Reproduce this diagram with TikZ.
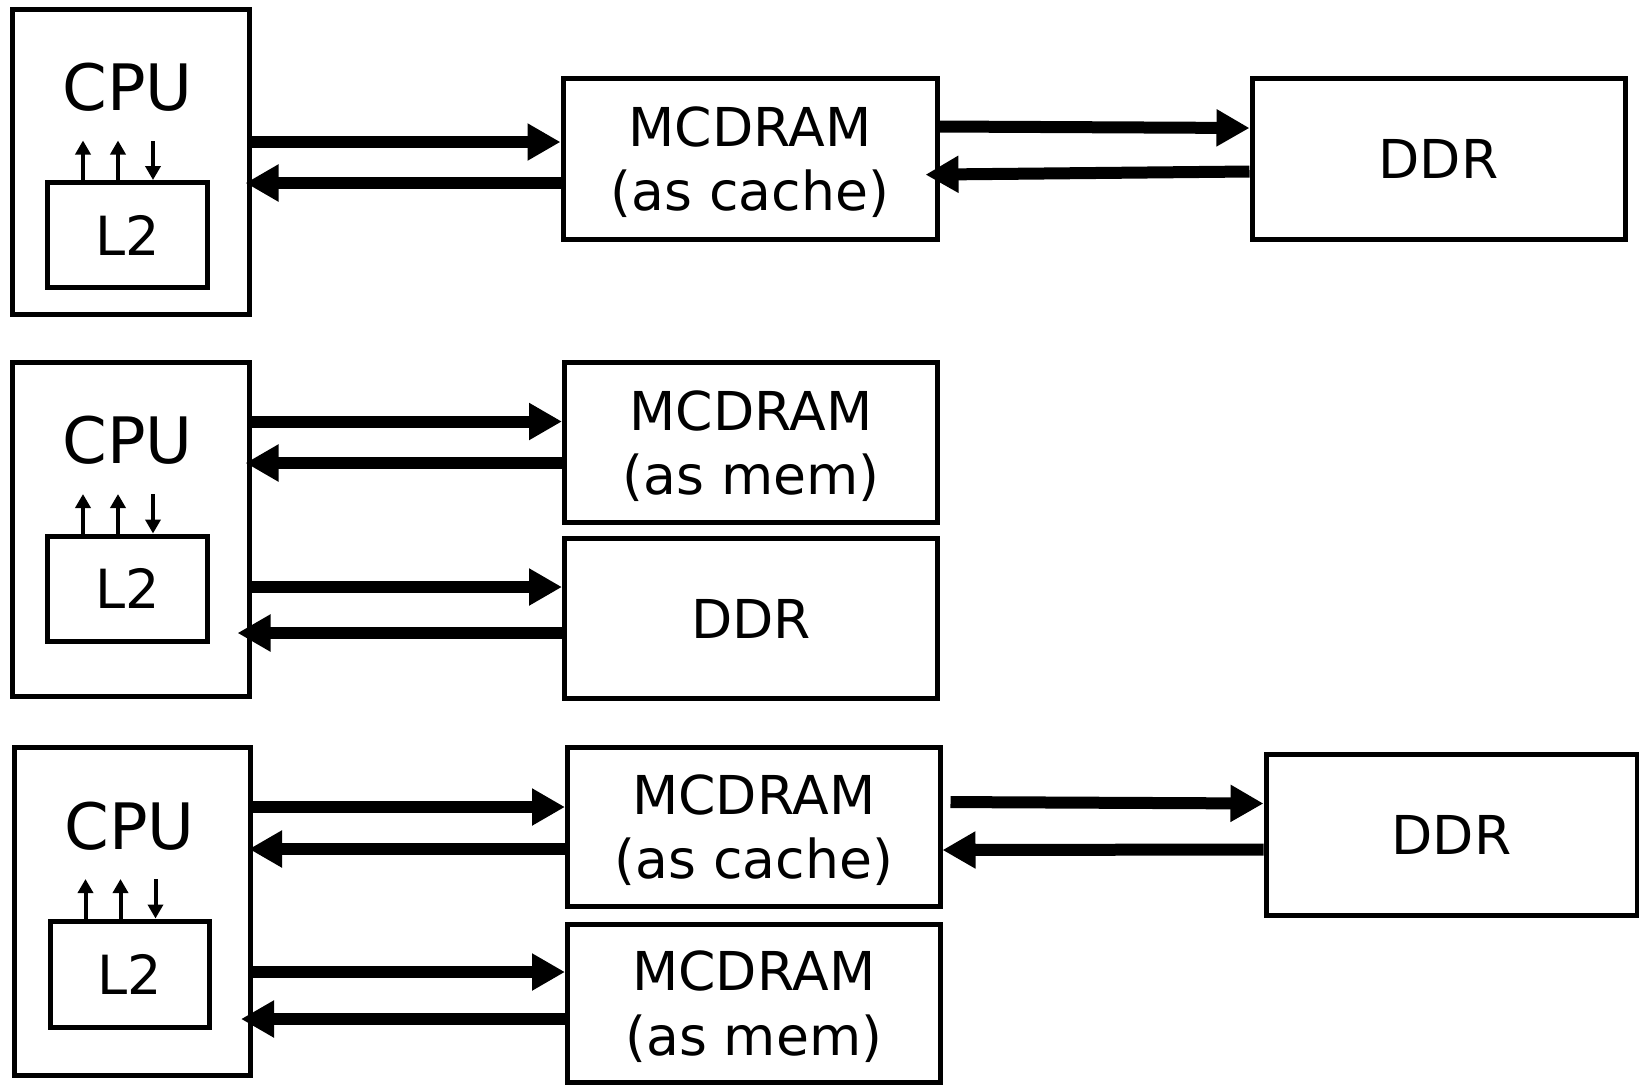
\documentclass[tikz,border=0pt]{standalone}
\usepackage{fontspec}
\setmainfont{DejaVu Sans}
\usetikzlibrary{arrows.meta}

\begin{document}
\begin{tikzpicture}[x=0.5pt,y=-0.5pt,
	box/.style={draw, line width=2.5pt, inner sep=0pt, align=center, font=\fontsize{26.8}{32.2}\selectfont},
	twoline/.style={text depth=0pt},
	cpulbl/.style={inner sep=0pt, font=\fontsize{32}{38}\selectfont},
	l2lbl/.style={font=\fontsize{27}{32}\selectfont},
	bus/.style={line width=6pt, -{Triangle[length=16.5pt,width=17.5pt]}},
	l2up/.style={line width=2pt, -{Triangle[length=7pt,width=7.5pt]}},
	l2down/.style={line width=2pt, {Triangle[length=7pt,width=7.5pt]}-}]
	\useasboundingbox (0,0) rectangle (1639,1084);
	% cache mode
	\node[box, minimum width=118.25pt, minimum height=152.25pt] (cpuA) at (130.75,161.75) {};
	\node[cpulbl] (cpuAt) at ([xshift=-1.5pt,yshift=-40pt]cpuA.north) {CPU};
	\node[box, l2lbl, minimum width=80pt, minimum height=52.5pt] (l2A) at (127.5,235) {L2};
	\node[box, twoline, minimum width=187pt, minimum height=80.5pt] (mcA) at (750,158.5) {MCDRAM\\(as cache)};
	\node[box, minimum width=186.5pt, minimum height=80.5pt] (ddrA) at (1438.5,158.5) {DDR};
	\draw[l2up] ([xshift=-22.25pt]l2A.north) -- ++(0,-39.5);
	\draw[l2up] ([xshift=-4.75pt]l2A.north) -- ++(0,-39.5);
	\draw[l2down] ([xshift=12.75pt]l2A.north) -- ++(0,-39.5);
	\draw[bus] (cpuA.east |- 0,142) -- (mcA.west |- 0,142);
	\draw[bus, shorten >=-3pt] (mcA.west |- 0,183) -- (cpuA.east |- 0,183);
	\draw[bus, shorten <=-2pt] (mcA.east |- 0,126.5) -- (ddrA.west |- 0,128);
	\draw[bus, shorten >=-7pt] (ddrA.west |- 0,171.5) -- (mcA.east |- 0,174.5);
	% flat mode
	\node[box, minimum width=118.25pt, minimum height=167pt] (cpuB) at (130.75,529.5) {};
	\node[cpulbl] (cpuBt) at ([xshift=-1.5pt,yshift=-40pt]cpuB.north) {CPU};
	\node[box, l2lbl, minimum width=80pt, minimum height=52.5pt] (l2B) at (127.5,588.5) {L2};
	\node[box, twoline, minimum width=186.5pt, minimum height=80pt] (mcB) at (751,442.5) {MCDRAM\\(as mem)};
	\node[box, minimum width=186.5pt, minimum height=80pt] (ddrB) at (751,618.5) {DDR};
	\draw[l2up] ([xshift=-22.25pt]l2B.north) -- ++(0,-39.5);
	\draw[l2up] ([xshift=-4.75pt]l2B.north) -- ++(0,-39.5);
	\draw[l2down] ([xshift=12.75pt]l2B.north) -- ++(0,-39.5);
	\draw[bus] (cpuB.east |- 0,421.5) -- (mcB.west |- 0,421.5);
	\draw[bus, shorten >=-3pt] (mcB.west |- 0,463) -- (cpuB.east |- 0,463);
	\draw[bus] (cpuB.east |- 0,587) -- (ddrB.west |- 0,587);
	\draw[bus, shorten >=-7pt] (ddrB.west |- 0,633) -- (cpuB.east |- 0,633);
	% hybrid mode
	\node[box, minimum width=118pt, minimum height=164.25pt] (cpuC) at (132.5,911.25) {};
	\node[cpulbl] (cpuCt) at ([xshift=-1.5pt,yshift=-41pt]cpuC.north) {CPU};
	\node[box, l2lbl, minimum width=79.5pt, minimum height=53.25pt] (l2C) at (130,974.25) {L2};
	\node[box, twoline, minimum width=186.25pt, minimum height=79.75pt] (mcC) at (753.75,826.75) {MCDRAM\\(as cache)};
	\node[box, twoline, minimum width=186.25pt, minimum height=78.75pt] (mcD) at (753.75,1003.25) {MCDRAM\\(as mem)};
	\node[box, minimum width=185.5pt, minimum height=80.5pt] (ddrC) at (1451.5,834.5) {DDR};
	\draw[l2up] ([xshift=-22.25pt]l2C.north) -- ++(0,-39.5);
	\draw[l2up] ([xshift=-4.75pt]l2C.north) -- ++(0,-39.5);
	\draw[l2down] ([xshift=12.75pt]l2C.north) -- ++(0,-39.5);
	\draw[bus] (cpuC.east |- 0,807) -- (mcC.west |- 0,807);
	\draw[bus, shorten >=-2pt] (mcC.west |- 0,849) -- (cpuC.east |- 0,849);
	\draw[bus] (cpuC.east |- 0,972) -- (mcD.west |- 0,972);
	\draw[bus, shorten >=-6pt] (mcD.west |- 0,1019) -- (cpuC.east |- 0,1019);
	\draw[bus, shorten <=4pt] (mcC.east |- 0,802) -- (ddrC.west |- 0,803.5);
	\draw[bus] (ddrC.west |- 0,849.5) -- (mcC.east |- 0,850);
\end{tikzpicture}
\end{document}
